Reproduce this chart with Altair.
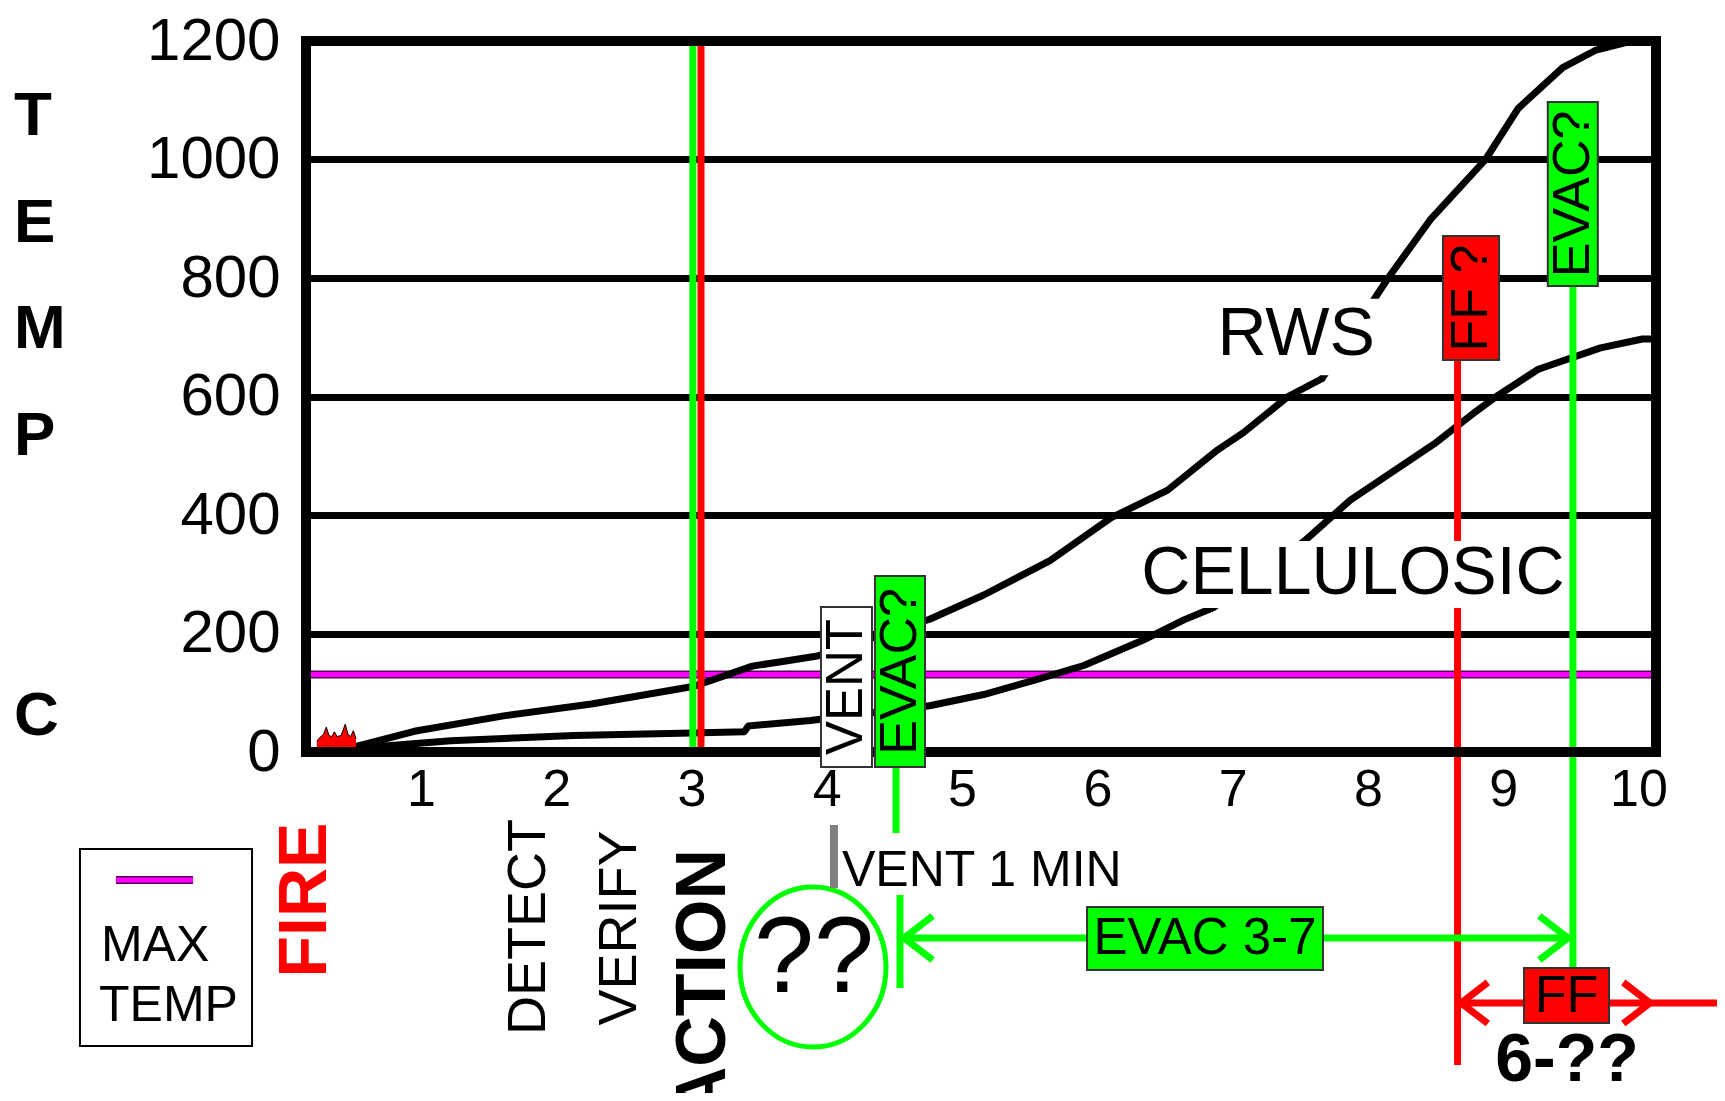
import altair as alt
import pandas as pd

REG = "Liberation Sans, Arial, sans-serif"
GREEN = "#00ff00"
RED = "#ff0000"
MAGENTA = "#ff00ff"

# ---------------- data ----------------
x_ticks = [1, 2, 3, 4, 5, 6, 7, 8, 9, 10]
y_ticks = [0, 200, 400, 600, 800, 1000, 1200]
x_domain = [0.15, 10.13]
y_domain = [0, 1200]

rws_time = [0.50, 0.95, 1.61, 2.26, 3.02, 3.45, 3.65, 3.93, 4.76, 5.16, 5.65, 6.10,
            6.52, 6.89, 7.08, 7.41, 7.66, 8.15, 8.46, 8.87, 9.11, 9.44, 9.68, 9.92, 10.13]
rws_temp = [8, 35, 61, 81, 111, 145, 152, 162, 224, 265, 323, 395,
            442, 510, 539, 600, 630, 800, 898, 1000, 1086, 1155, 1184, 1198, 1200]

cell_time = [0.50, 1.22, 2.13, 3.00, 3.39, 3.42, 3.88, 4.76, 5.16, 5.53, 5.90, 6.34,
             6.64, 6.86, 7.53, 7.87, 8.49, 8.80, 8.95, 9.26, 9.72, 10.03, 10.13]
cell_temp = [6, 19, 28, 32, 34, 44, 53, 78, 97, 121, 146, 189,
             223, 244, 356, 425, 520, 575, 600, 646, 682, 697, 697]

max_temp = 131

fire_time = [0.23, 0.25, 0.28, 0.30, 0.32, 0.34, 0.36, 0.38, 0.41, 0.44, 0.46, 0.48, 0.50, 0.52]
fire_flame = [18, 24, 30, 42, 28, 26, 34, 26, 28, 47, 30, 26, 36, 22]

# ---------------- scales / encodings ----------------
xscale = alt.Scale(domain=x_domain, nice=False, zero=False)
yscale = alt.Scale(domain=y_domain, nice=False, zero=False)
xaxis = alt.Axis(values=x_ticks, format="d", grid=False, domain=False, ticks=False,
                 labelFont=REG, labelFontSize=52, labelColor="black",
                 labelPadding=12, labelOverlap=False, labelFlush=False, title="")
yaxis = alt.Axis(values=y_ticks, format="d", grid=True, gridColor="black", gridWidth=7,
                 gridOpacity=1, domain=False, ticks=False,
                 labelFont=REG, labelFontSize=60, labelColor="black",
                 labelPadding=26, labelOverlap=False, labelFlush=False, title="")
X = alt.X("x:Q", scale=xscale, axis=xaxis)
Y = alt.Y("y:Q", scale=yscale, axis=yaxis)
X2 = alt.X2("x2:Q")
Y2 = alt.Y2("y2:Q")
C = alt.Color("c:N", scale=None)


def rects(rows, **kw):
    df = pd.DataFrame(rows, columns=["x", "x2", "y", "y2", "c"])
    return alt.Chart(df).mark_rect(**kw).encode(x=X, x2=X2, y=Y, y2=Y2, fill=C)


def vrules(rows, **kw):
    df = pd.DataFrame(rows, columns=["x", "y", "y2", "c"])
    return alt.Chart(df).mark_rule(**kw).encode(x=X, y=Y, y2=Y2, color=C)


def hrules(rows, **kw):
    df = pd.DataFrame(rows, columns=["x", "x2", "y", "c"])
    return alt.Chart(df).mark_rule(**kw).encode(x=X, x2=X2, y=Y, color=C)


def label(text, x, y, **kw):
    df = pd.DataFrame({"x": [x], "y": [y], "t": [text]})
    style = dict(font=REG, color="black", align="center", baseline="middle")
    style.update(kw)
    return alt.Chart(df).mark_text(**style).encode(x=X, y=Y, text="t:N")


def symbol(x, y, shape, size, color, width):
    df = pd.DataFrame({"x": [x], "y": [y]})
    return alt.Chart(df).mark_point(shape=shape, size=size, filled=False, stroke=color,
                                    strokeWidth=width, opacity=1,
                                    strokeJoin="miter").encode(x=X, y=Y)


# ---------------- layers ----------------
curves = pd.concat([
    pd.DataFrame({"x": rws_time, "y": rws_temp, "s": "RWS"}),
    pd.DataFrame({"x": cell_time, "y": cell_temp, "s": "CELLULOSIC"}),
])
curve_layer = alt.Chart(curves).mark_line(color="black", strokeWidth=7, strokeJoin="round",
                                          strokeCap="round").encode(x=X, y=Y, detail="s:N")

fire_df = pd.DataFrame({"x": fire_time, "y": fire_flame, "y2": [6] * len(fire_time)})
fire_layer = alt.Chart(fire_df).mark_area(color=RED, line={"color": "black", "strokeWidth": 1},
                                          opacity=1).encode(x=X, y=Y, y2=Y2)

max_under = hrules([[x_domain[0], x_domain[1], max_temp, "#5a005a"]], strokeWidth=8)
max_line = hrules([[x_domain[0], x_domain[1], max_temp, MAGENTA]], strokeWidth=5)

verticals = vrules([
    [3.01, 0, 1200, GREEN],
    [3.07, 0, 1200, RED],
    [8.663, 661.6, -528.3, RED],
    [9.516, 786.5, -364.6, GREEN],
    [4.512, -25.3, -136.7, GREEN],
    [4.541, -241.4, -398.3, GREEN],
], strokeWidth=7)

gray_bar = vrules([[4.053, -123.2, -229.5, "#808080"]], strokeWidth=8)

frame_df = pd.DataFrame({"x": [x_domain[0]], "x2": [x_domain[1]], "y": [y_domain[0]], "y2": [y_domain[1]]})
frame = alt.Chart(frame_df).mark_rect(fill="transparent", stroke="black", strokeWidth=10).encode(
    x=X, x2=X2, y=Y, y2=Y2)

white_boxes = rects([
    [6.79, 8.13, 636, 765, "white"],
    [6.30, 9.465, 243, 356, "white"],
])

arrows = hrules([
    [4.571, 9.479, -313.9, GREEN],
    [8.689, 10.60, -423.6, RED],
], strokeWidth=7)

LEFT = "M1.3,-1L0,0L1.3,1"
RIGHT = "M-1.3,-1L0,0L-1.3,1"
heads = [
    symbol(4.571, -313.9, LEFT, 1936, GREEN, 7),
    symbol(9.479, -313.9, RIGHT, 1936, GREEN, 7),
    symbol(8.689, -423.6, LEFT, 1700, RED, 7),
    symbol(10.086, -423.6, RIGHT, 1700, RED, 7),
]

ELLIPSE = ("M0,-1.096C0.552,-1.096,1,-0.605,1,0C1,0.605,0.552,1.096,0,1.096"
           "C-0.552,1.096,-1,0.605,-1,0C-1,-0.605,-0.552,-1.096,0,-1.096Z")
circle = symbol(3.898, -362.9, ELLIPSE, 21316, GREEN, 5)

boxes = rects([
    [3.957, 4.334, 244.7, -25.3, "white"],
    [4.356, 4.726, 297, -25.3, GREEN],
    [8.555, 8.97, 871, 661.6, RED],
    [9.33, 9.70, 1097, 786.5, GREEN],
    [5.924, 7.668, -261.6, -367.9, GREEN],
    [9.154, 9.783, -364.6, -457.4, RED],
], stroke="#333333", strokeWidth=2)

legend_box = rects([[-1.521, -0.249, -163.7, -496.2, "white"]], stroke="black", strokeWidth=2)
legend_under = hrules([[-1.255, -0.685, -216, "#5a005a"]], strokeWidth=8)
legend_line = hrules([[-1.255, -0.685, -216, MAGENTA]], strokeWidth=5)

texts = [
    label("RWS", 7.47, 703, fontSize=68),
    label("CELLULOSIC", 7.89, 301, fontSize=68),
    label("VENT", 4.146, 109.7, fontSize=51, angle=270),
    label("EVAC?", 4.541, 136, fontSize=52, angle=270),
    label("FF ?", 8.762, 766, fontSize=52, angle=270),
    label("EVAC?", 9.516, 942, fontSize=52, angle=270),
    label("EVAC 3-7", 6.796, -314.8, fontSize=51),
    label("FF", 9.468, -411, fontSize=52),
    label("6-??", 9.472, -521.5, fontSize=68, fontWeight="bold"),
    label("VENT 1 MIN", 4.112, -200.8, fontSize=50, align="left"),
    label("??", 3.905, -351, fontSize=108),
    label("MAX", -1.366, -327.4, fontSize=50, align="left"),
    label("TEMP", -1.380, -428.7, fontSize=50, align="left"),
    label("FIRE", 0.15, -249.8, fontSize=68, fontWeight="bold", angle=270, color=RED),
    label("DETECT", 1.799, -295.4, fontSize=54, angle=270),
    label("VERIFY", 2.471, -297, fontSize=54, angle=270),
    label("ACTION", 3.092, -163.7, fontSize=70, fontWeight="bold", angle=270, align="right"),
    label("T", -2.009, 1073, fontSize=62, fontWeight="bold", align="left"),
    label("E", -2.009, 893, fontSize=62, fontWeight="bold", align="left"),
    label("M", -2.009, 714, fontSize=62, fontWeight="bold", align="left"),
    label("P", -2.009, 533, fontSize=62, fontWeight="bold", align="left"),
    label("C", -2.009, 61, fontSize=62, fontWeight="bold", align="left"),
]

chart = alt.layer(
    max_under, max_line, curve_layer, fire_layer, verticals, frame, white_boxes,
    arrows, *heads, circle, gray_bar, boxes, legend_box, legend_under, legend_line, *texts,
).properties(
    width=1350, height=711,
    autosize=alt.AutoSizeParams(type="none"),
    padding={"left": 298, "top": 33, "right": 61, "bottom": 341},
    background="white",
).configure_view(strokeWidth=0)

chart.save("out.html", embed_options={"renderer": "svg", "actions": False})
